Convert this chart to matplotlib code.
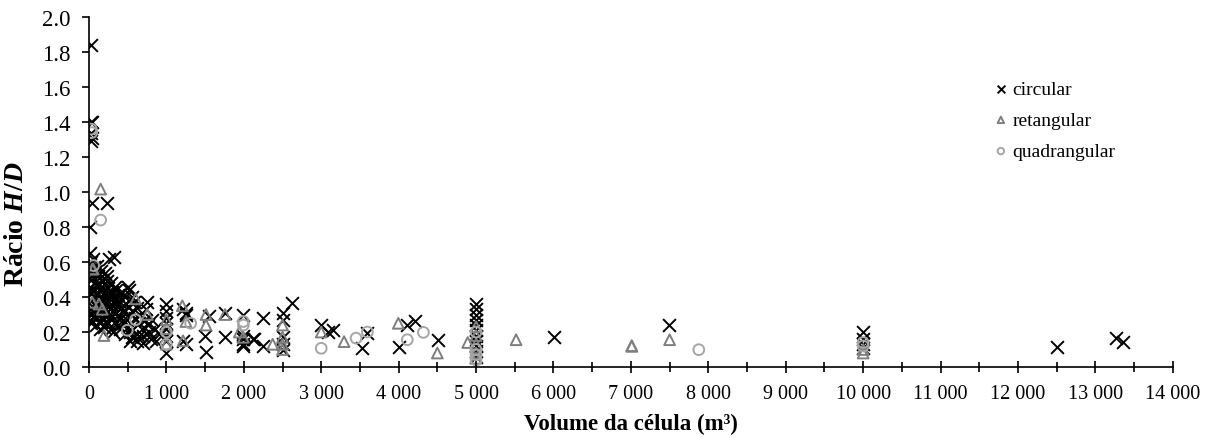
import numpy as np
import matplotlib
matplotlib.use('Agg')
import matplotlib.pyplot as plt
from matplotlib.ticker import FuncFormatter, MultipleLocator

plt.rcParams['font.family'] = ['Liberation Serif', 'DejaVu Serif']
plt.rcParams['mathtext.fontset'] = 'custom'
plt.rcParams['mathtext.it'] = 'Liberation Serif:bold:italic'
plt.rcParams['mathtext.rm'] = 'Liberation Serif:bold'

# circular cells (volume m3, H/D)
circ_vol = [
    20, 30, 45, 25, 35, 30, 35, 229, 13,
    10, 20, 15, 25, 10, 30, 20, 15, 25, 10, 30, 50, 60, 45, 70, 55, 80, 65, 50, 75, 90, 85,
    110, 120, 130, 105, 140, 115, 150, 125, 160, 170, 180, 190, 150, 200, 185, 175, 195, 140,
    210, 230, 250, 215, 240, 260, 225, 270, 245, 280, 255, 320, 290, 300, 310, 285, 320, 300, 330, 310,
    350, 370, 390, 360, 400, 380, 420, 440, 400, 460, 480, 430, 500, 520, 470, 490, 510, 460, 530,
    550, 580, 560, 600, 620, 640, 660, 680, 700, 720, 740, 760, 780, 800, 820, 850, 870, 900,
    560, 620, 700, 750, 650, 530,
    40, 95, 165, 235, 275, 345, 410, 285, 200, 120, 60, 340, 380, 440,
    1000, 1000, 1000, 1000, 1000, 1000, 1000, 1000,
    1210, 1253, 1253, 1210, 1253, 1500, 1512, 1550, 1757, 1757,
    1994, 1994, 1994, 1994, 1994, 2123, 2244, 2244, 2132,
    2500, 2500, 2500, 2500, 2500, 2618,
    3000, 3092, 3148, 3523, 3596, 4000, 4104, 4212, 4513,
    5000, 5000, 5000, 5000, 5000, 5000, 5000, 5000, 5000, 5000, 5000,
    6008, 7497, 10000, 10000, 10000, 10000, 12502, 13269, 13355,
]
circ_hd = [
    1.84, 1.40, 1.40, 1.34, 1.31, 1.29, 0.94, 0.94, 0.80,
    0.65, 0.60, 0.55, 0.50, 0.45, 0.42, 0.38, 0.33, 0.30, 0.27, 0.25, 0.62, 0.57, 0.52, 0.48, 0.44, 0.40, 0.36, 0.32, 0.28, 0.24, 0.55,
    0.58, 0.52, 0.47, 0.43, 0.40, 0.36, 0.32, 0.29, 0.26, 0.50, 0.45, 0.41, 0.55, 0.37, 0.33, 0.28, 0.23, 0.22,
    0.54, 0.49, 0.45, 0.42, 0.38, 0.35, 0.31, 0.28, 0.25, 0.22, 0.62, 0.63, 0.48, 0.43, 0.40, 0.36, 0.32, 0.29, 0.26, 0.20,
    0.44, 0.41, 0.38, 0.35, 0.33, 0.30, 0.28, 0.25, 0.22, 0.40, 0.36, 0.43, 0.46, 0.44, 0.32, 0.27, 0.23, 0.19, 0.20,
    0.40, 0.37, 0.32, 0.28, 0.34, 0.25, 0.30, 0.22, 0.18, 0.27, 0.33, 0.24, 0.20, 0.16, 0.27, 0.22, 0.15, 0.19,
    0.17, 0.15, 0.14, 0.37, 0.18, 0.15,
    0.35, 0.47, 0.38, 0.52, 0.33, 0.38, 0.34, 0.41, 0.30, 0.34, 0.29, 0.46, 0.24, 0.32,
    0.36, 0.32, 0.28, 0.25, 0.22, 0.18, 0.15, 0.08,
    0.33, 0.31, 0.13, 0.15, 0.30, 0.18, 0.084, 0.29, 0.31, 0.17,
    0.30, 0.18, 0.16, 0.13, 0.12, 0.16, 0.28, 0.12, 0.16,
    0.31, 0.27, 0.17, 0.13, 0.10, 0.366,
    0.24, 0.20, 0.21, 0.107, 0.194, 0.115, 0.24, 0.265, 0.156,
    0.36, 0.33, 0.30, 0.27, 0.24, 0.21, 0.18, 0.15, 0.12, 0.09, 0.06,
    0.17, 0.24, 0.20, 0.16, 0.13, 0.11, 0.112, 0.164, 0.141,
]

# rectangular cells
ret_vol = [151, 43, 43, 129, 172, 194, 603, 753, 56,
           1000, 1000, 1000, 1206, 1253, 1215, 1512, 1512, 1757, 1942, 1994,
           2373, 2500, 2500, 2500, 2500, 3000, 3295, 3996, 4500, 4892,
           5000, 5000, 5000, 5000, 5000, 5517, 7011, 7011, 7500, 10000, 10000]
ret_hd = [1.017, 0.56, 0.37, 0.36, 0.33, 0.18, 0.39, 0.30, 0.56,
          0.27, 0.22, 0.13, 0.35, 0.26, 0.15, 0.30, 0.24, 0.30, 0.20, 0.17,
          0.13, 0.24, 0.17, 0.13, 0.10, 0.20, 0.145, 0.25, 0.08, 0.14,
          0.23, 0.18, 0.13, 0.08, 0.05, 0.156, 0.118, 0.122, 0.156, 0.10, 0.08]

# square cells
quad_vol = [30, 35, 151, 60, 495, 603,
            1000, 1000, 1314, 1994, 1994,
            3000, 3450, 3596, 4112, 4320,
            5000, 5000, 5000, 5000, 7877, 10000, 10000]
quad_hd = [1.36, 1.34, 0.84, 0.58, 0.21, 0.27,
           0.20, 0.13, 0.25, 0.26, 0.24,
           0.107, 0.165, 0.20, 0.156, 0.198,
           0.20, 0.10, 0.07, 0.04, 0.099, 0.14, 0.12]

fig = plt.figure(figsize=(12.07, 4.39), dpi=100)
ax = fig.add_axes([0.0737, 0.1617, 0.898, 0.797])

ax.scatter(circ_vol, circ_hd, marker='x', s=85, c='black', linewidths=1.4, label='circular')
ax.scatter(ret_vol, ret_hd, marker='^', s=60, facecolors='none', edgecolors='#7f7f7f',
           linewidths=1.4, label='retangular')
ax.scatter(quad_vol, quad_hd, marker='o', s=60, facecolors='none', edgecolors='#a6a6a6',
           linewidths=1.4, label='quadrangular')

ax.set_xlim(0, 14000)
ax.set_ylim(0, 2.0)
ax.xaxis.set_major_locator(MultipleLocator(1000))
ax.xaxis.set_minor_locator(MultipleLocator(500))
ax.yaxis.set_major_locator(MultipleLocator(0.2))
ax.xaxis.set_major_formatter(FuncFormatter(lambda v, p: f'{int(v):,}'.replace(',', ' ')))
ax.yaxis.set_major_formatter(FuncFormatter(lambda v, p: f'{v:.1f}'))

ax.spines['top'].set_visible(False)
ax.spines['right'].set_visible(False)
ax.spines['left'].set_linewidth(1.2)
ax.spines['bottom'].set_linewidth(1.2)
ax.tick_params(axis='x', which='major', direction='inout', length=9, width=1.2, labelsize=14.5, pad=8)
ax.tick_params(axis='x', which='minor', direction='inout', length=7, width=1.2)
ax.tick_params(axis='y', which='major', direction='out', length=5, width=1.2, labelsize=16.5, pad=8)

ax.set_xlabel('Volume da célula (m³)', fontsize=16.5, fontweight='bold', labelpad=7)
ax.set_ylabel(r'Rácio $\mathit{H/D}$', fontsize=20, fontweight='bold')
ax.yaxis.set_label_coords(-0.055, 0.41)

ax.legend(loc='upper left', bbox_to_anchor=(0.818, 0.87), frameon=False, fontsize=14,
          markerscale=0.6, handlelength=0.8, handletextpad=0.2, labelspacing=0.7,
          scatterpoints=1)

fig.savefig('out.png', dpi=100)
